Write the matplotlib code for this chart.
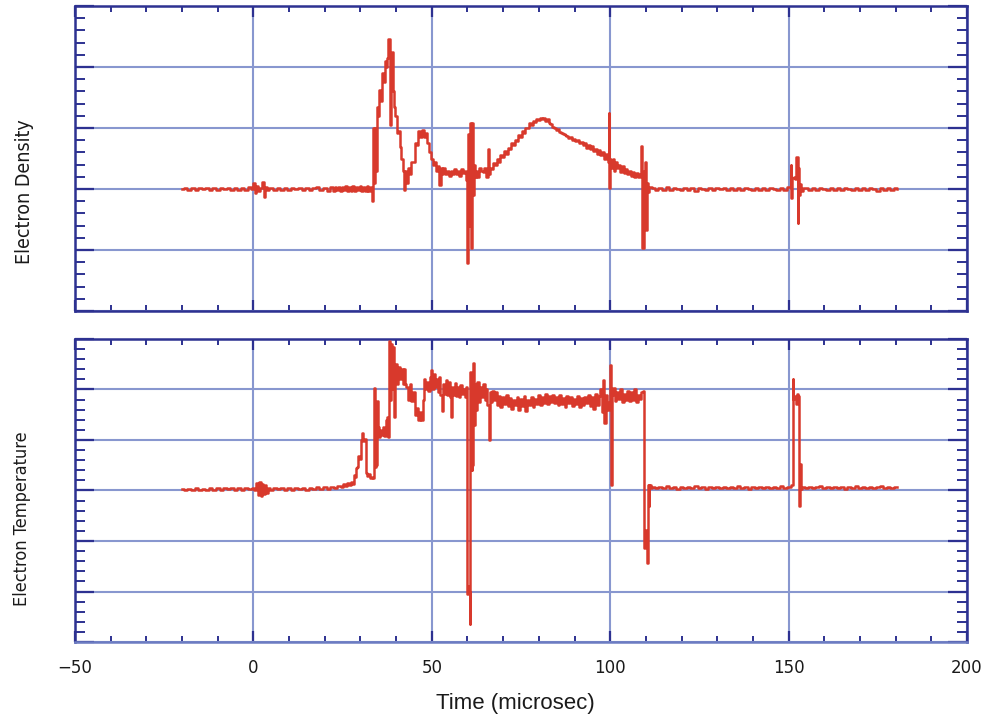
import matplotlib
matplotlib.use("Agg")
import matplotlib.pyplot as plt
from matplotlib.ticker import MultipleLocator, NullFormatter
import numpy as np

# ---------------- data: Electron Density (arbitrary units, grid units) ----------------
dens_t_a = [-20, -19, -18, -17, -16, -15, -14, -13, -12, -11, -10, -9, -8, -7, -6, -5, -4, -3, -2, -1,
            -0.5, 0.2, 0.5, 1.0, 1.5, 2.3, 2.7, 3.0, 3.4,
            4, 5, 6, 7, 8, 9, 10, 11, 12, 13, 14, 15, 16, 17, 18, 19, 20, 21, 22,
            22.5, 23, 23.5, 24, 24.5, 25, 25.5, 26, 26.5, 27, 27.5, 28, 28.5, 29, 29.5, 30, 30.5, 31, 31.5, 32, 32.5, 33]
dens_v_a = [0.0, 0.02, -0.01, 0.01, -0.02, 0.01, 0.0, 0.02, -0.01, 0.01, -0.02, 0.01, 0.0, 0.02, -0.01, 0.01, -0.02, 0.02, -0.01, 0.03,
            0.0, 0.1, -0.07, 0.05, -0.04, 0.02, 0.12, -0.13, 0.04,
            -0.02, 0.01, -0.01, 0.02, -0.01, 0.01, -0.02, 0.01, 0.0, 0.02, -0.01, 0.01, -0.02, 0.01, 0.03, -0.02, 0.01, -0.03, 0.04,
            -0.03, 0.03, -0.02, 0.04, -0.04, 0.03, -0.02, 0.05, -0.04, 0.03, -0.03, 0.05, -0.04, 0.03, -0.02, 0.05, -0.03, 0.04, -0.04, 0.05, -0.03, 0.04]

dens_t_b = [33.5, 33.7, 34.0, 34.3, 34.6, 34.8, 35.1, 35.5, 35.8, 36.3,
            36.7, 37.0, 37.4, 37.7, 38.0, 38.3, 38.6, 38.9, 39.2, 39.6,
            40.0, 40.3, 40.8, 41.2, 41.6, 42.0, 42.3, 42.7, 43.1, 43.5,
            44.0, 44.5, 45.0, 45.5, 46.0, 46.5, 47.0, 47.6, 48.0, 48.5,
            49.0, 49.5, 50.0, 50.5, 51.0, 51.5, 52.0, 52.3, 52.7, 53.0,
            53.5, 54.0, 54.5, 55.0, 55.5, 56.0, 56.5, 57.0, 57.5, 58.0,
            58.5, 59.0, 59.5]
dens_v_b = [-0.2, 1.0, 0.1, 1.0, 0.3, 1.35, 1.2, 1.62, 1.45, 1.9,
            1.75, 2.1, 2.0, 2.15, 2.46, 1.05, 1.9, 2.25, 1.6, 1.35,
            1.2, 0.92, 0.95, 0.69, 0.5, 0.3, -0.02, 0.3, 0.1, 0.35,
            0.25, 0.45, 0.45, 0.75, 0.72, 0.95, 0.85, 0.97, 0.85, 0.92,
            0.75, 0.6, 0.5, 0.4, 0.45, 0.3, 0.38, 0.07, 0.35, 0.25,
            0.35, 0.25, 0.3, 0.22, 0.3, 0.25, 0.33, 0.24, 0.3, 0.22,
            0.32, 0.26, 0.3]

dens_t_c = [59.8, 60.0, 60.2, 60.5, 60.8, 61.1, 61.4, 61.7, 62.0, 62.3, 62.6,
            63.0, 63.5, 64.0, 64.5, 65.0, 65.5, 65.8, 66.1,
            66.5, 67.0, 67.5, 68.0, 68.5, 69.0, 69.5, 70.0, 70.5, 71.0,
            71.5, 72.0, 72.5, 73.0, 73.5, 74.0, 74.5, 75.0, 75.5, 76.0,
            76.5, 77.0, 77.5, 78.0, 78.5, 79.0, 79.5, 80.0, 80.5, 81.0,
            81.5, 82.0, 82.5, 83.0, 83.5, 84.0, 84.5, 85.0, 85.5, 86.0,
            86.5, 87.0, 87.5, 88.0, 88.5, 89.0, 89.5, 90.0, 90.5, 91.0,
            91.5, 92.0, 92.5, 93.0, 93.5, 94.0, 94.5, 95.0, 95.5, 96.0,
            96.5, 97.0, 97.5, 98.0, 98.5, 99.0, 99.5]
dens_v_c = [0.15, -1.21, 0.9, -0.6, 1.08, -0.97, 1.08, -0.1, 0.4, 0.2, 0.3,
            0.2, 0.35, 0.3, 0.28, 0.35, 0.2, 0.65, 0.25,
            0.35, 0.32, 0.42, 0.4, 0.5, 0.45, 0.55, 0.52, 0.62, 0.58,
            0.68, 0.65, 0.75, 0.72, 0.8, 0.78, 0.88, 0.85, 0.95, 0.92,
            1.0, 1.0, 1.08, 1.05, 1.12, 1.1, 1.15, 1.13, 1.17, 1.14,
            1.16, 1.12, 1.14, 1.08, 1.06, 1.02, 1.0, 0.97, 0.98, 0.93,
            0.92, 0.9, 0.88, 0.87, 0.84, 0.85, 0.81, 0.82, 0.78, 0.8,
            0.75, 0.77, 0.72, 0.75, 0.68, 0.72, 0.65, 0.7, 0.62, 0.66,
            0.58, 0.64, 0.55, 0.6, 0.5, 0.58, 0.45]

dens_t_d = [99.7, 99.9, 100.2, 100.5, 100.8, 101.2, 101.6,
            102.0, 102.5, 103.0, 103.5, 104.0, 104.5, 105.0, 105.5, 106.0, 106.5, 107.0, 107.5, 108.0, 108.5,
            108.9, 109.2, 109.5, 110.0, 110.2, 110.5, 110.8, 111.2]
dens_v_d = [1.25, 0.02, 0.5, 0.35, 0.5, 0.3, 0.45,
            0.35, 0.4, 0.28, 0.38, 0.27, 0.33, 0.25, 0.3, 0.22, 0.28, 0.2, 0.26, 0.2, 0.25,
            0.7, -0.97, 0.3, 0.44, -0.67, 0.1, -0.05, 0.03]

dens_t_e = [112, 113, 114, 115, 116, 117, 118, 119, 120, 121, 122, 123, 124, 125, 126, 127, 128, 129, 130,
            131, 132, 133, 134, 135, 136, 137, 138, 139, 140, 141, 142, 143, 144, 145, 146, 147, 148, 149, 150]
dens_v_e = [0.02, -0.01, 0.01, -0.02, 0.03, -0.01, 0.01, 0.0, -0.02, 0.02,
            -0.01, 0.01, -0.03, 0.02, 0.0, -0.01, 0.02, -0.02, 0.01, 0.0,
            0.02, -0.01, 0.01, -0.02, 0.02, -0.01, 0.01, 0.0, -0.02, 0.02,
            -0.01, 0.01, -0.02, 0.02, 0.0, -0.01, 0.02, -0.01, 0.03]

dens_t_f = [150.5, 150.7, 150.9, 151.2, 151.6, 152.0, 152.4, 152.6, 152.8, 153.1, 153.4, 153.8, 154.5]
dens_v_f = [0.03, 0.39, -0.15, 0.18, 0.2, 0.16, 0.52, -0.56, 0.35, -0.1, 0.08, -0.03, 0.01]

dens_t_g = [155, 156, 157, 158, 159, 160, 161, 162, 163, 164, 165, 166, 167, 168, 169, 170,
            171, 172, 173, 174, 175, 176, 177, 178, 179, 180, 180.5]
dens_v_g = [0.02, -0.01, 0.01, -0.02, 0.02, 0.0, -0.01, 0.02, -0.02, 0.01,
            -0.01, 0.02, 0.0, -0.02, 0.01, -0.01, 0.02, -0.02, 0.01, 0.0,
            -0.03, 0.01, -0.02, 0.02, -0.01, 0.01, 0.0]

# ---------------- data: Electron Temperature ----------------
temp_t_a = [-20, -19, -18, -17, -16, -15, -14, -13, -12, -11, -10, -9, -8, -7, -6, -5, -4, -3, -2, -1, 0,
            0.5, 1.0, 1.4, 1.8, 2.2, 2.6, 3.0, 3.4, 3.8, 4.3,
            5, 6, 7, 8, 9, 10, 11, 12, 13, 14, 15, 16, 17, 18, 19, 20, 21, 22, 23, 24, 25,
            25.5, 26, 26.5, 27, 27.5, 28]
temp_v_a = [0.02, 0.0, 0.03, 0.01, 0.04, 0.0, 0.03, 0.01, 0.05, 0.01, 0.04, 0.0, 0.05, 0.02, 0.04, 0.0, 0.05, 0.01, 0.04, 0.02, 0.05,
            0.0, 0.14, -0.08, 0.16, -0.1, 0.12, -0.07, 0.1, -0.04, 0.05,
            0.01, 0.04, 0.02, 0.05, 0.01, 0.04, 0.01, 0.05, 0.02, 0.05, 0.01, 0.04, 0.02, 0.06, 0.02, 0.06, 0.03, 0.07, 0.04, 0.08, 0.06,
            0.12, 0.08, 0.14, 0.1, 0.17, 0.13]

temp_t_b = [28.3, 28.6, 29.0, 29.3, 29.6, 30.0, 30.2, 30.5, 30.9, 31.3,
            31.6, 32.0, 32.5, 33.0, 33.5, 33.8, 33.9, 34.1, 34.4, 34.7,
            35.0, 35.3, 35.7, 36.1, 36.5, 36.9, 37.3, 37.7, 38.0, 38.1,
            38.4, 38.7, 39.0, 39.3, 39.6, 40.0, 40.4, 40.8, 41.2, 41.6,
            42.0, 42.4, 42.8, 43.0, 43.5, 44.0, 44.5, 45.0, 45.5, 46.0,
            46.4, 46.8, 47.2, 47.6, 48.0, 48.4, 48.8, 49.2, 49.6, 50.0,
            50.3, 50.7, 51.0, 51.4, 51.8, 52.2, 52.6, 53.0, 53.3, 53.7,
            54.1, 54.5, 54.9, 55.2, 55.5, 55.8, 56.2, 56.6, 57.0, 57.4,
            57.8, 58.2, 58.6, 59.0, 59.4, 59.7]
temp_v_b = [0.3, 0.26, 0.44, 0.46, 0.69, 0.62, 1.0, 1.13, 0.99, 1.02,
            0.34, 0.28, 0.32, 0.24, 0.26, 0.24, 2.02, 0.46, 0.5, 1.78,
            1.25, 1.05, 1.2, 1.1, 1.25, 1.08, 1.4, 1.45, 1.05, 2.97,
            1.8, 2.9, 2.0, 2.85, 1.45, 2.5, 2.1, 2.45, 2.2, 2.4,
            2.1, 2.4, 2.1, 2.05, 1.8, 2.1, 1.78, 1.95, 1.5, 1.64,
            1.39, 1.55, 1.4, 1.8, 2.2, 2.0, 2.15, 1.98, 2.25, 2.38,
            2.0, 2.3, 2.05, 2.2, 1.95, 2.25, 1.9, 1.58, 2.1, 1.92,
            2.18, 1.9, 2.15, 1.85, 1.45, 2.05, 1.9, 2.12, 1.88, 2.05,
            1.85, 2.08, 1.92, 2.0, 1.85, 2.05]

temp_t_c = [59.9, 60.0, 60.3, 60.5, 60.7, 60.8, 61.0, 61.3, 61.5, 61.7,
            62.0, 62.3, 62.6, 63.0, 63.4, 63.8, 64.2, 64.6, 65.0, 65.4,
            65.8, 66.1, 66.3, 66.8, 67.2, 67.6, 68.0,
            68.5, 69.0, 69.5, 70.0, 70.5, 71.0, 71.5, 72.0, 72.5, 73.0,
            73.5, 74.0, 74.5, 75.0, 75.5, 76.0, 76.5, 77.0, 77.5, 78.0,
            78.5, 79.0, 79.5, 80.0, 80.5, 81.0, 81.5, 82.0, 82.5, 83.0,
            83.5, 84.0, 84.5, 85.0, 85.5, 86.0, 86.5, 87.0, 87.5, 88.0,
            88.5, 89.0, 89.5, 90.0, 90.5, 91.0, 91.5, 92.0, 92.5, 93.0,
            93.5, 94.0, 94.5, 95.0, 95.5, 96.0, 96.5, 97.0]
temp_v_c = [1.9, -2.04, -1.9, -2.0, -2.64, 2.34, 0.46, 0.4, 0.5, 2.53,
            1.29, 2.1, 1.6, 2.15, 1.75, 2.05, 1.85, 2.1, 1.8, 2.0,
            1.7, 1.0, 1.95, 1.75, 1.98, 1.8, 1.95,
            1.7, 1.88, 1.66, 1.85, 1.72, 1.9, 1.68, 1.84, 1.62, 1.8,
            1.7, 1.86, 1.6, 1.82, 1.68, 1.88, 1.58, 1.8, 1.7, 1.85,
            1.66, 1.82, 1.72, 1.9, 1.7, 1.86, 1.74, 1.92, 1.72, 1.88,
            1.76, 1.9, 1.74, 1.86, 1.7, 1.9, 1.72, 1.84, 1.66, 1.88,
            1.74, 1.86, 1.68, 1.82, 1.72, 1.88, 1.66, 1.84, 1.7, 1.86,
            1.74, 1.9, 1.68, 1.86, 1.62, 1.92, 1.7, 1.88]

temp_t_d = [97.4, 97.8, 98.2, 98.6, 99.0, 99.4, 99.8, 100.0, 100.2, 100.6,
            101.0, 101.5, 102.0, 102.5, 103.0, 103.5, 104.0, 104.5, 105.0, 105.5,
            106.0, 106.5, 107.0, 107.5, 108.0, 108.5, 109.0,
            109.4, 109.6, 109.9, 110.3, 110.5, 110.7, 110.9, 111.1, 111.5]
temp_v_d = [2.0, 1.55, 2.18, 1.33, 1.9, 1.6, 1.75, 2.48, 0.1, 1.9,
            2.02, 1.78, 1.95, 1.82, 2.0, 1.76, 1.92, 1.8, 1.98, 1.78,
            1.95, 1.8, 2.0, 1.76, 1.9, 1.82, 1.95,
            1.98, -1.13, -0.79, -0.79, -1.43, 0.1, -0.3, 0.1, 0.05]

temp_t_e = [112, 113, 114, 115, 116, 117, 118, 119, 120, 121, 122, 123, 124, 125, 126, 127, 128, 129, 130,
            131, 132, 133, 134, 135, 136, 137, 138, 139, 140, 141, 142, 143, 144, 145, 146, 147, 148, 149, 150]
temp_v_e = [0.06, 0.04, 0.07, 0.05, 0.08, 0.04, 0.06, 0.03, 0.07, 0.05,
            0.06, 0.04, 0.08, 0.05, 0.06, 0.03, 0.07, 0.05, 0.06, 0.04,
            0.07, 0.05, 0.06, 0.04, 0.08, 0.05, 0.06, 0.03, 0.07, 0.05,
            0.06, 0.04, 0.07, 0.05, 0.06, 0.04, 0.08, 0.05, 0.06]

temp_t_f = [150.6, 151.0, 151.2, 151.5, 151.8, 152.1, 152.4, 152.7, 152.95, 153.2, 153.5, 154.0]
temp_v_f = [0.06, 0.1, 2.2, 1.82, 1.88, 1.72, 1.92, 1.88, -0.3, 0.53, 0.02, 0.06]

temp_t_g = [155, 156, 157, 158, 159, 160, 161, 162, 163, 164, 165, 166, 167, 168, 169, 170,
            171, 172, 173, 174, 175, 176, 177, 178, 179, 180, 180.5]
temp_v_g = [0.05, 0.07, 0.04, 0.06, 0.08, 0.05, 0.06, 0.04, 0.07, 0.05,
            0.06, 0.03, 0.07, 0.05, 0.08, 0.04, 0.06, 0.05, 0.07, 0.04,
            0.06, 0.08, 0.05, 0.06, 0.04, 0.07, 0.06]

x_ticks = [-50, 0, 50, 100, 150, 200]
x_tick_labels = ["\u221250", "0", "50", "100", "150", "200"]
y_labels = ["Electron Density", "Electron Temperature"]
x_label = "Time (microsec)"

dens_t = dens_t_a + dens_t_b + dens_t_c + dens_t_d + dens_t_e + dens_t_f + dens_t_g
dens_v = dens_v_a + dens_v_b + dens_v_c + dens_v_d + dens_v_e + dens_v_f + dens_v_g
temp_t = temp_t_a + temp_t_b + temp_t_c + temp_t_d + temp_t_e + temp_t_f + temp_t_g
temp_v = temp_v_a + temp_v_b + temp_v_c + temp_v_d + temp_v_e + temp_v_f + temp_v_g

# ---------------- styling ----------------
NAVY = "#2d3191"
GRID = "#8897cf"
RED = "#d8392c"

fig = plt.figure(figsize=(9.93, 7.15), dpi=100)
ax1 = fig.add_axes([75 / 993, 1 - 311 / 715, 892 / 993, 305 / 715])
ax2 = fig.add_axes([75 / 993, 1 - 642 / 715, 892 / 993, 303 / 715])


def style(ax, ylim, show_labels):
    ax.set_xlim(-50, 200)
    ax.set_ylim(*ylim)
    ax.set_axisbelow(True)
    ax.xaxis.set_major_locator(MultipleLocator(50))
    ax.xaxis.set_minor_locator(MultipleLocator(10))
    ax.yaxis.set_major_locator(MultipleLocator(1))
    ax.yaxis.set_minor_locator(MultipleLocator(0.2))
    ax.grid(True, which="major", color=GRID, linewidth=1.5)
    ax.tick_params(axis="x", which="major", direction="in", length=8, width=1.6,
                   color=NAVY, top=True, bottom=True, labelsize=12, pad=12,
                   labelcolor="#1a1a1a")
    ax.tick_params(axis="x", which="minor", direction="in", length=4.5, width=1.4,
                   color=NAVY, top=True, bottom=True)
    ax.tick_params(axis="y", which="major", direction="in", length=14, width=1.6,
                   color=NAVY, left=True, right=True, labelleft=False)
    ax.tick_params(axis="y", which="minor", direction="in", length=7.5, width=1.4,
                   color=NAVY, left=True, right=True)
    ax.yaxis.set_major_formatter(NullFormatter())
    for s in ax.spines.values():
        s.set_color(NAVY)
        s.set_linewidth(1.8)
    if show_labels:
        ax.set_xticks(x_ticks)
        ax.set_xticklabels(x_tick_labels)
    else:
        ax.xaxis.set_major_formatter(NullFormatter())


style(ax1, (-2, 3), False)
style(ax2, (-3, 3), True)
ax2.spines["bottom"].set_color("#6c7cc2")

ax1.plot(dens_t, dens_v, color=RED, linewidth=1.8, drawstyle="steps-mid", zorder=3)
ax2.plot(temp_t, temp_v, color=RED, linewidth=1.8, drawstyle="steps-mid", zorder=3)

fig.text(25 / 993, 1 - 192 / 715, y_labels[0], rotation=90, ha="center", va="center",
         fontsize=14, fontstretch="condensed", family="DejaVu Sans", color="#1a1a1a")
fig.text(22 / 993, 1 - 519 / 715, y_labels[1], rotation=90, ha="center", va="center",
         fontsize=13, fontstretch="condensed", family="DejaVu Sans", color="#1a1a1a")
fig.text(515 / 993, 1 - 703 / 715, x_label, ha="center", va="center",
         fontsize=16, family="Liberation Sans", color="#1a1a1a")

fig.savefig("out.png", dpi=100)
